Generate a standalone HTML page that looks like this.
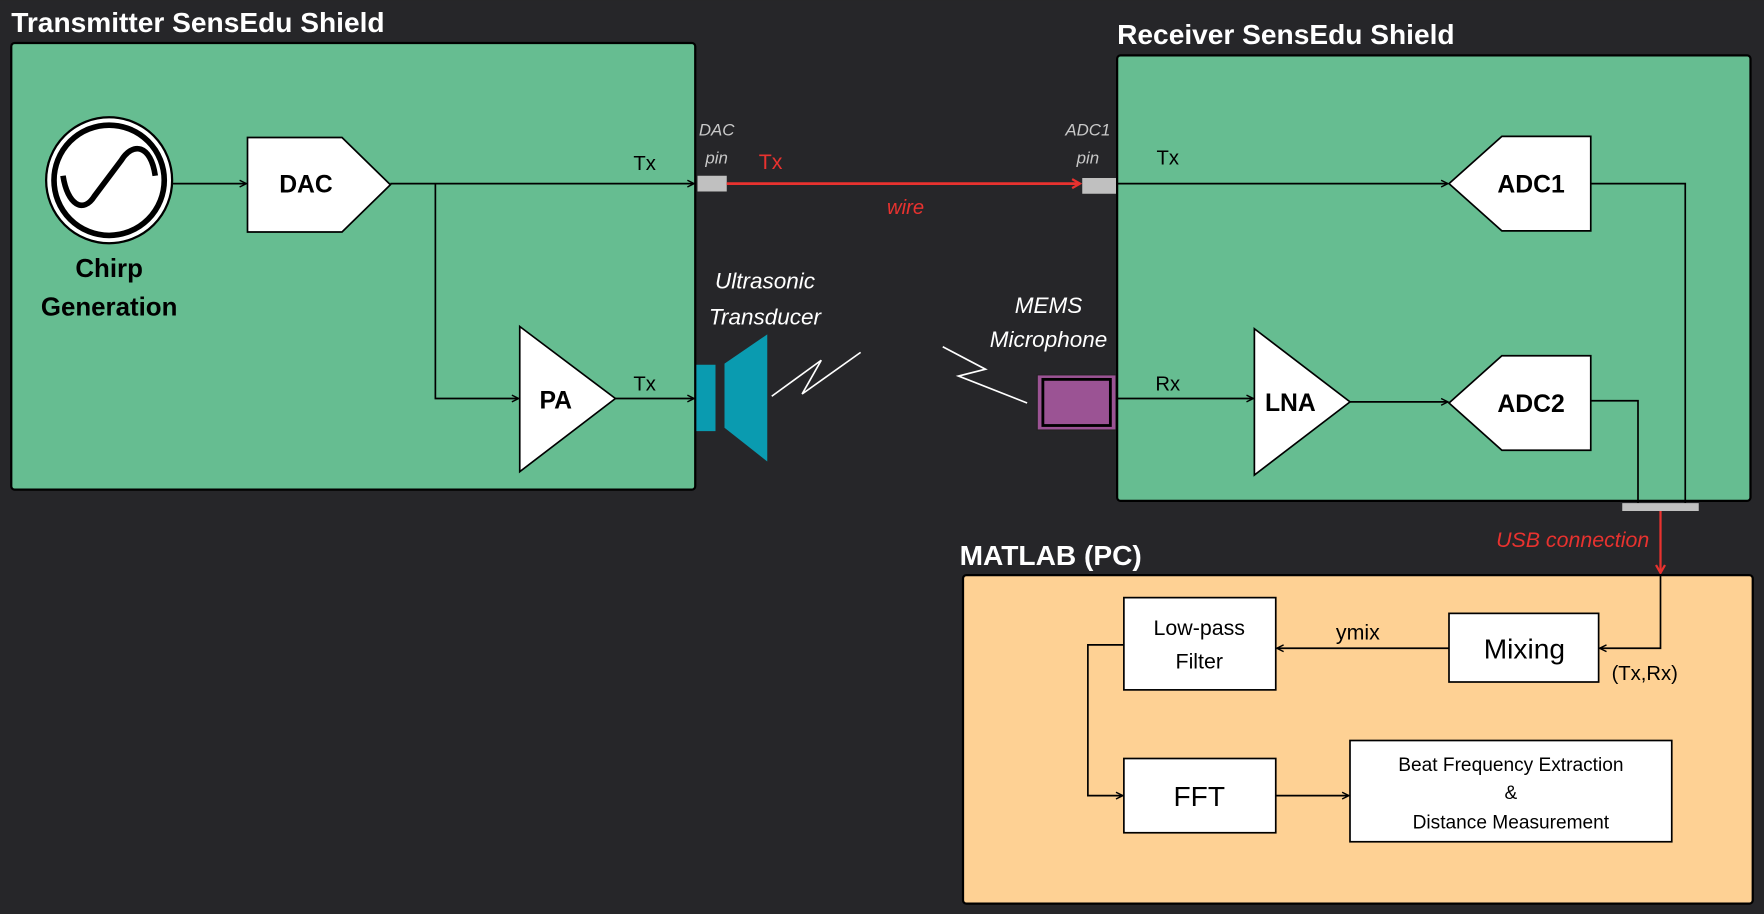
<!DOCTYPE html>
<html><head><meta charset="utf-8"><style>
html,body{margin:0;padding:0;background:#262629;}
svg{display:block;}
text{font-family:"Liberation Sans",sans-serif;}
</style></head><body>
<svg width="1764" height="914" viewBox="0 0 1568 812" xmlns="http://www.w3.org/2000/svg">
<defs>
<marker id="a" markerWidth="8" markerHeight="8" refX="7" refY="4" orient="auto" markerUnits="userSpaceOnUse"><path d="M1,1 L7,4 L1,7" fill="none" stroke="#000" stroke-width="1.3"/></marker>
<marker id="r" markerWidth="10" markerHeight="10" refX="8" refY="5" orient="auto" markerUnits="userSpaceOnUse"><path d="M1,1 L8,5 L1,9" fill="none" stroke="#e8322f" stroke-width="2"/></marker>
</defs>
<rect width="1568" height="812" fill="#262629"/>
<!-- Transmitter -->
<text x="10" y="28" font-size="25" font-weight="bold" fill="#fff">Transmitter SensEdu Shield</text>
<rect x="10" y="38" width="608" height="397" rx="3" fill="#66bd91" stroke="#000" stroke-width="2"/>
<circle cx="97" cy="160" r="56" fill="#fff" stroke="#000" stroke-width="2"/>
<circle cx="97" cy="160" r="49" fill="none" stroke="#000" stroke-width="5"/>
<path d="M56,156 C60,182 74,190 84,174 L108,142 C118,126 134,128 138,156" fill="none" stroke="#000" stroke-width="5"/>
<text x="97" y="246" font-size="23" font-weight="bold" text-anchor="middle">Chirp</text>
<text x="97" y="280" font-size="23" font-weight="bold" text-anchor="middle">Generation</text>
<path d="M220,122 L304,122 L347,164 L304,206 L220,206 Z" fill="#fff" stroke="#000" stroke-width="1.5"/>
<text x="272" y="171" font-size="22" font-weight="bold" text-anchor="middle">DAC</text>
<line x1="153" y1="163" x2="219" y2="163" stroke="#000" stroke-width="1.5" marker-end="url(#a)"/>
<line x1="347" y1="163" x2="617" y2="163" stroke="#000" stroke-width="1.5" marker-end="url(#a)"/>
<polyline points="387,163 387,354 461,354" fill="none" stroke="#000" stroke-width="1.5" marker-end="url(#a)"/>
<path d="M462,290 L547,354 L462,419 Z" fill="#fff" stroke="#000" stroke-width="1.5"/>
<text x="494" y="363" font-size="22" font-weight="bold" text-anchor="middle">PA</text>
<line x1="547" y1="354" x2="617" y2="354" stroke="#000" stroke-width="1.5" marker-end="url(#a)"/>
<text x="573" y="151" font-size="18" text-anchor="middle">Tx</text>
<text x="573" y="347" font-size="18" text-anchor="middle">Tx</text>
<!-- pins / wire -->
<rect x="620" y="156" width="26" height="14" fill="#c0c0c0"/>
<text x="637" y="120" font-size="15" font-style="italic" fill="#c8c8c8" text-anchor="middle">DAC</text>
<text x="637" y="145" font-size="15" font-style="italic" fill="#c8c8c8" text-anchor="middle">pin</text>
<line x1="646" y1="163" x2="960" y2="163" stroke="#e8322f" stroke-width="2.5" marker-end="url(#r)"/>
<text x="685" y="150" font-size="19" fill="#e8322f" text-anchor="middle">Tx</text>
<text x="805" y="190" font-size="18" font-style="italic" fill="#e8322f" text-anchor="middle">wire</text>
<rect x="962" y="158" width="30" height="14" fill="#c0c0c0"/>
<text x="967" y="120" font-size="15" font-style="italic" fill="#c8c8c8" text-anchor="middle">ADC1</text>
<text x="967" y="145" font-size="15" font-style="italic" fill="#c8c8c8" text-anchor="middle">pin</text>
<!-- transducer -->
<rect x="619" y="324" width="17" height="59" fill="#0a9bb0"/>
<path d="M644,323 L682,297 L682,410 L644,380 Z" fill="#0a9bb0"/>
<polyline points="686,352 730,320 713,350 765,313" fill="none" stroke="#fff" stroke-width="1.5"/>
<text x="680" y="256" font-size="20" font-style="italic" fill="#fff" text-anchor="middle">Ultrasonic</text>
<text x="680" y="288" font-size="20" font-style="italic" fill="#fff" text-anchor="middle">Transducer</text>
<!-- mic -->
<polyline points="838,308 876,328 852,334 913,358" fill="none" stroke="#fff" stroke-width="1.5"/>
<text x="932" y="278" font-size="20" font-style="italic" fill="#fff" text-anchor="middle">MEMS</text>
<text x="932" y="308" font-size="20" font-style="italic" fill="#fff" text-anchor="middle">Microphone</text>
<rect x="922" y="333" width="70" height="49" fill="#9b5394" stroke="#222" stroke-width="1"/>
<rect x="927" y="337" width="60" height="41" fill="none" stroke="#000" stroke-width="2.5"/>
<!-- Receiver -->
<text x="993" y="39" font-size="25" font-weight="bold" fill="#fff">Receiver SensEdu Shield</text>
<rect x="993" y="49" width="563" height="396" rx="3" fill="#66bd91" stroke="#000" stroke-width="2"/>
<line x1="992" y1="163" x2="1287" y2="163" stroke="#000" stroke-width="1.5" marker-end="url(#a)"/>
<text x="1038" y="146" font-size="18" text-anchor="middle">Tx</text>
<path d="M1288,163 L1335,121 L1414,121 L1414,205 L1335,205 Z" fill="#fff" stroke="#000" stroke-width="1.5"/>
<text x="1361" y="171" font-size="22" font-weight="bold" text-anchor="middle">ADC1</text>
<polyline points="1414,163 1498,163 1498,447" fill="none" stroke="#000" stroke-width="1.5"/>
<line x1="992" y1="354" x2="1114" y2="354" stroke="#000" stroke-width="1.5" marker-end="url(#a)"/>
<text x="1038" y="347" font-size="18" text-anchor="middle">Rx</text>
<path d="M1115,292 L1200,357 L1115,422 Z" fill="#fff" stroke="#000" stroke-width="1.5"/>
<text x="1147" y="365" font-size="22" font-weight="bold" text-anchor="middle">LNA</text>
<line x1="1200" y1="357" x2="1287" y2="357" stroke="#000" stroke-width="1.5" marker-end="url(#a)"/>
<path d="M1288,358 L1335,316 L1414,316 L1414,400 L1335,400 Z" fill="#fff" stroke="#000" stroke-width="1.5"/>
<text x="1361" y="366" font-size="22" font-weight="bold" text-anchor="middle">ADC2</text>
<polyline points="1414,356 1456,356 1456,447" fill="none" stroke="#000" stroke-width="1.5"/>
<rect x="1442" y="447" width="68" height="7" fill="#c0c0c0"/>
<line x1="1476" y1="454" x2="1476" y2="509" stroke="#e8322f" stroke-width="2" marker-end="url(#r)"/>
<text x="1466" y="486" font-size="19" font-style="italic" fill="#e8322f" text-anchor="end">USB connection</text>
<!-- MATLAB -->
<text x="853" y="502" font-size="25" font-weight="bold" fill="#fff">MATLAB (PC)</text>
<rect x="856" y="511" width="702" height="292" rx="3" fill="#fed194" stroke="#000" stroke-width="2"/>
<rect x="999" y="531" width="135" height="82" fill="#fff" stroke="#000" stroke-width="1.5"/>
<text x="1066" y="564" font-size="19" text-anchor="middle">Low-pass</text>
<text x="1066" y="594" font-size="19" text-anchor="middle">Filter</text>
<rect x="1288" y="545" width="133" height="61" fill="#fff" stroke="#000" stroke-width="1.5"/>
<text x="1355" y="585" font-size="25" text-anchor="middle">Mixing</text>
<rect x="999" y="674" width="135" height="66" fill="#fff" stroke="#000" stroke-width="1.5"/>
<text x="1066" y="716" font-size="25" text-anchor="middle">FFT</text>
<rect x="1200" y="658" width="286" height="90" fill="#fff" stroke="#000" stroke-width="1.5"/>
<text x="1343" y="685" font-size="17" text-anchor="middle">Beat Frequency Extraction</text>
<text x="1343" y="710" font-size="17" text-anchor="middle">&amp;</text>
<text x="1343" y="736" font-size="17" text-anchor="middle">Distance Measurement</text>
<polyline points="1476,511 1476,576 1422,576" fill="none" stroke="#000" stroke-width="1.5" marker-end="url(#a)"/>
<text x="1462" y="604" font-size="18" text-anchor="middle">(Tx,Rx)</text>
<line x1="1288" y1="576" x2="1135" y2="576" stroke="#000" stroke-width="1.5" marker-end="url(#a)"/>
<text x="1207" y="568" font-size="19" text-anchor="middle">ymix</text>
<polyline points="999,573 967,573 967,707 998,707" fill="none" stroke="#000" stroke-width="1.5" marker-end="url(#a)"/>
<line x1="1134" y1="707" x2="1199" y2="707" stroke="#000" stroke-width="1.5" marker-end="url(#a)"/>
</svg>
</body></html>
